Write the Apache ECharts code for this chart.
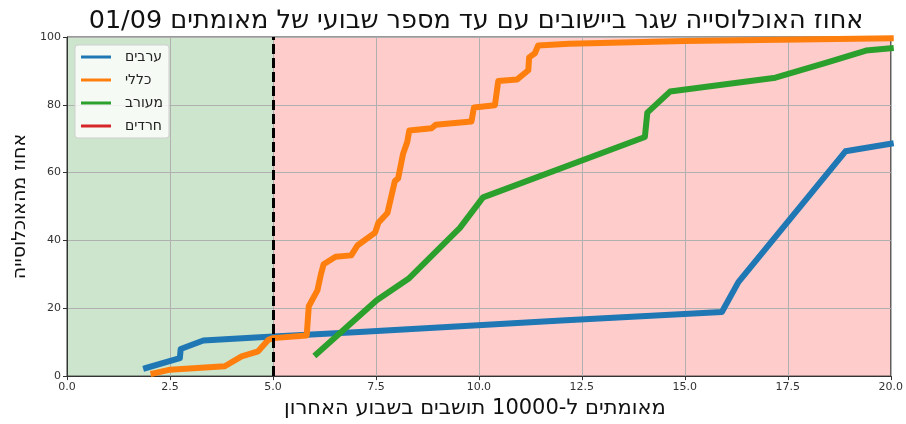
<!DOCTYPE html>
<html lang="he">
<head>
<meta charset="utf-8">
<script src="https://cdn.jsdelivr.net/npm/echarts@6/dist/echarts.min.js"></script>
<style>
  html, body { margin: 0; padding: 0; background: #fff; }
  #chart { width: 906px; height: 424px; direction: rtl; }
</style>
</head>
<body>
<div id="chart" dir="rtl"></div>
<script>
// cases per 10000 residents (x) vs cumulative % of population (y)
const arabX = [1.92, 2.74, 2.76, 3.31, 5.0, 7.1, 12.0, 15.9, 16.3, 18.9, 20.0]
const arabY = [2.4, 5.3, 8.0, 10.5, 11.7, 13.0, 16.4, 18.9, 27.7, 66.3, 68.5]

const generalX = [2.1, 2.5, 3.83, 4.24, 4.64, 4.89, 5.0, 5.82, 5.87, 6.08, 6.16, 6.23, 6.52, 6.9, 7.05,
  7.48, 7.56, 7.78, 7.96, 8.04, 8.16, 8.26, 8.31, 8.85, 8.95, 9.82, 9.88, 10.39, 10.47, 10.93,
  11.2, 11.22, 11.36, 11.44, 12.2, 15.0, 20.0]
const generalY = [0.8, 1.9, 2.9, 5.8, 7.3, 10.7, 11.2, 12.0, 20.6, 25.3, 29.8, 33.0, 35.2, 35.6, 38.5,
  42.3, 45.2, 48.1, 57.5, 58.3, 65.6, 69.0, 72.4, 73.1, 74.1, 75.1, 79.2, 79.9, 87.0, 87.5,
  90.2, 94.0, 95.2, 97.5, 98.0, 98.8, 99.6]

const mixedX = [6.06, 7.52, 8.29, 9.54, 10.1, 14.03, 14.09, 14.64, 17.2, 18.4, 19.4, 20.0]
const mixedY = [6.5, 22.4, 28.7, 43.7, 52.7, 70.5, 77.7, 83.9, 88.0, 92.3, 96.0, 96.7]

const haredimX = []
const haredimY = []

const seriesNames = ['ערבים', 'כללי', 'מעורב', 'חרדים']
const seriesColors = ['#1f77b4', '#ff7f0e', '#2ca02c', '#d62728']

const threshold = 5
const xTicks = [0, 2.5, 5, 7.5, 10, 12.5, 15, 17.5, 20]
const yTicks = [0, 20, 40, 60, 80, 100]

const FONT = 'DejaVu Sans'

function pairs(xs, ys) {
  return xs.map((x, i) => [x, ys[i]])
}

const chart = echarts.init(document.getElementById('chart'), null, { renderer: 'canvas' })

const lineSeries = [
  pairs(arabX, arabY),
  pairs(generalX, generalY),
  pairs(mixedX, mixedY),
  pairs(haredimX, haredimY),
].map((data, i) => ({
  name: seriesNames[i],
  type: 'line',
  data,
  showSymbol: false,
  symbol: 'none',
  clip: true,
  z: 3,
  itemStyle: { color: seriesColors[i] },
  lineStyle: { width: 6, color: seriesColors[i], cap: 'square', join: 'round' },
  emphasis: { disabled: true },
}))

chart.setOption({
  animation: false,
  backgroundColor: '#fff',
  title: {
    text: 'אחוז האוכלוסייה שגר ביישובים עם עד מספר שבועי של מאומתים 01/09',
    left: 471,
    textAlign: 'center',
    top: 3,
    textStyle: { fontFamily: FONT, fontSize: 25.5, fontWeight: 'normal', color: '#111' },
  },
  legend: {
    left: 75,
    top: 45,
    orient: 'vertical',
    data: seriesNames,
    icon: 'rect',
    itemWidth: 30,
    itemHeight: 3,
    itemGap: 7,
    padding: [4, 6, 4, 6],
    backgroundColor: 'rgba(255,255,255,0.8)',
    borderColor: '#d0d0d0',
    borderWidth: 1,
    borderRadius: 3,
    formatter: name => name + '\u00a0\u00a0',
    textStyle: { fontFamily: FONT, fontSize: 14, color: '#222', lineHeight: 16 },
  },
  grid: { left: 67, right: 15, top: 37, bottom: 44, show: true, borderColor: '#333', borderWidth: 1, backgroundColor: 'transparent' },
  xAxis: {
    type: 'value',
    min: 0,
    max: 20,
    interval: 2.5,
    name: 'מאומתים ל-10000 תושבים בשבוע האחרון',
    nameLocation: 'middle',
    nameGap: 21,
    nameTextStyle: { fontFamily: FONT, fontSize: 21, color: '#111', padding: [0, 8, 0, 0] },
    axisLine: { show: true, lineStyle: { color: '#333', width: 1 } },
    axisTick: { show: true, length: 4, lineStyle: { color: '#333' } },
    axisLabel: {
      fontFamily: FONT, fontSize: 11, color: '#333', margin: 6,
      formatter: v => v.toFixed(1),
    },
    splitLine: { show: true, lineStyle: { color: '#b0b0b0', width: 1 } },
  },
  yAxis: {
    type: 'value',
    min: 0,
    max: 100,
    interval: 20,
    name: 'אחוז מהאוכלוסייה',
    nameLocation: 'middle',
    nameRotate: 90,
    nameGap: 28,
    nameTextStyle: { fontFamily: FONT, fontSize: 19, color: '#111' },
    axisLine: { show: true, lineStyle: { color: '#333', width: 1 } },
    axisTick: { show: true, length: 4, lineStyle: { color: '#333' } },
    axisLabel: { fontFamily: FONT, fontSize: 11, color: '#333', margin: 6 },
    splitLine: { show: true, lineStyle: { color: '#b0b0b0', width: 1 } },
  },
  series: [
    {
      // shaded zones + threshold line
      type: 'line',
      data: [],
      z: -1,
      silent: true,
      markArea: {
        silent: true,
        z: -1,
        itemStyle: { opacity: 1 },
        data: [
          [{ xAxis: xTicks[0], itemStyle: { color: 'rgb(205,228,205)' } }, { xAxis: threshold }],
          [{ xAxis: threshold, itemStyle: { color: 'rgb(255,204,204)' } }, { xAxis: xTicks[xTicks.length - 1] }],
        ],
      },
    },
    ...lineSeries,
    {
      type: 'line',
      data: [],
      z: 4,
      silent: true,
      markLine: {
        silent: true,
        symbol: 'none',
        label: { show: false },
        lineStyle: { color: '#000', width: 3, type: [10, 4] },
        data: [{ xAxis: threshold }],
      },
    },
  ],
})
</script>
</body>
</html>
